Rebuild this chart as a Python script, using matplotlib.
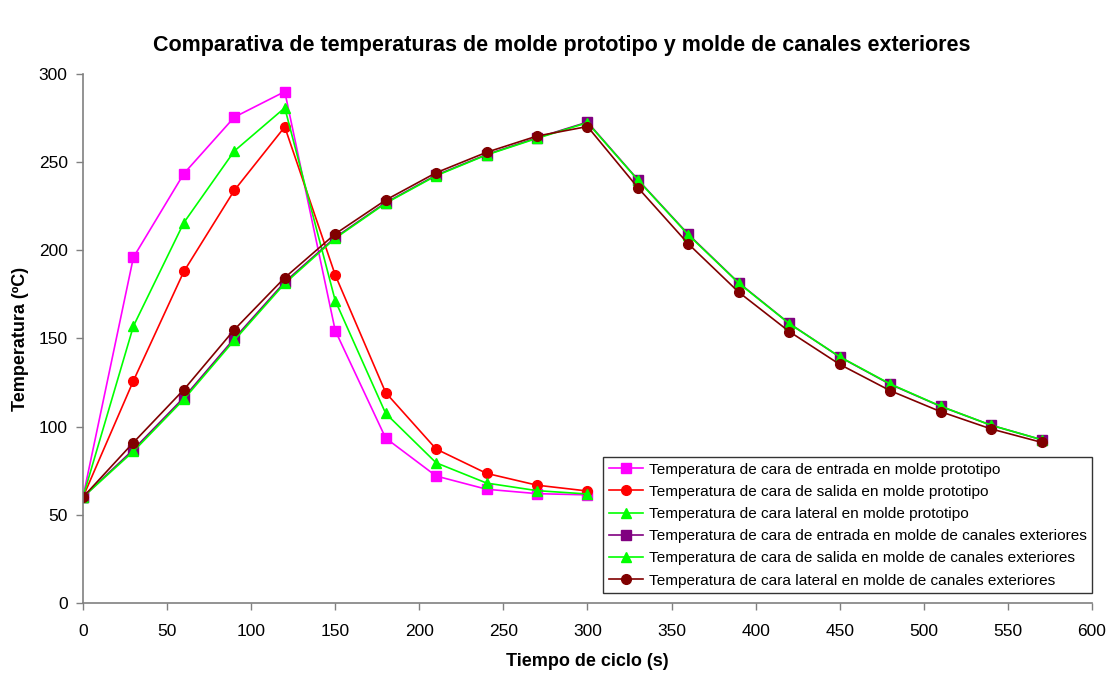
import matplotlib
matplotlib.use("Agg")
import matplotlib.pyplot as plt

plt.rcParams['font.family'] = ['Liberation Sans', 'DejaVu Sans']

t_proto = [0, 30, 60, 90, 120, 150, 180, 210, 240, 270, 300]
entrada_proto = [60, 196, 243.5, 275.5, 290, 154.5, 93.5, 72, 64.5, 62, 61.3]
salida_proto = [60, 126, 188, 234, 270, 186, 119.3, 87.3, 73.5, 66.8, 63.5]
lateral_proto = [60, 157, 215.7, 256.3, 280.8, 171.5, 107.5, 79.5, 68, 63.7, 61.8]

t_can = [0, 30, 60, 90, 120, 150, 180, 210, 240, 270, 300, 330, 360, 390, 420, 450, 480, 510, 540, 570]
entrada_can = [60, 87, 116.5, 150, 182, 207.3, 227, 242.6, 254.3, 263.8, 272.7, 240, 209, 181.5, 158.5, 139.5, 124, 111.5, 100.8, 92.6]
salida_can = [60, 86, 115.5, 149, 181.2, 206.8, 226.7, 242.3, 254.1, 263.5, 272.4, 239.8, 208.7, 181.3, 158.4, 139.6, 124.2, 111.6, 100.8, 92.6]
lateral_can = [60, 91, 121, 155, 184.5, 209.3, 228.5, 244, 255.6, 264.8, 270.2, 235.5, 203.6, 176.2, 153.9, 135.3, 120.4, 108.5, 98.7, 91.1]

labels = [
    "Temperatura de cara de entrada en molde prototipo",
    "Temperatura de cara de salida en molde prototipo",
    "Temperatura de cara lateral en molde prototipo",
    "Temperatura de cara de entrada en molde de canales exteriores",
    "Temperatura de cara de salida en molde de canales exteriores",
    "Temperatura de cara lateral en molde de canales exteriores",
]

fig = plt.figure(figsize=(11.15, 6.75), dpi=100)
ax = fig.add_axes([0.0744, 0.1067, 0.905, 0.7837])

lw = 1.2
ms = 6.5
ax.plot(t_proto, entrada_proto, color='#FF00FF', marker='s', ms=ms, lw=lw, label=labels[0])
ax.plot(t_proto, salida_proto, color='#FF0000', marker='o', ms=ms + 0.5, lw=lw, label=labels[1])
ax.plot(t_proto, lateral_proto, color='#00FF00', marker='^', ms=ms + 0.5, lw=lw, label=labels[2])
ax.plot(t_can, entrada_can, color='#800080', marker='s', ms=ms, lw=lw, label=labels[3])
ax.plot(t_can, salida_can, color='#00FF00', marker='^', ms=ms + 0.5, lw=lw, label=labels[4])
ax.plot(t_can, lateral_can, color='#800000', marker='o', ms=ms + 0.5, lw=lw, label=labels[5])

ax.set_xlim(0, 600)
ax.set_ylim(0, 300)
ax.set_xticks(range(0, 601, 50))
ax.set_yticks(range(0, 301, 50))
for s in ['top', 'right']:
    ax.spines[s].set_visible(False)
for s in ['left', 'bottom']:
    ax.spines[s].set_color('#808080')
    ax.spines[s].set_linewidth(1.2)
ax.tick_params(direction='out', length=5, width=1, color='#808080', labelsize=12.5, pad=6)
ax.tick_params(axis='x', pad=10)

ax.set_xlabel("Tiempo de ciclo (s)", fontsize=13, fontweight='bold', labelpad=10)
ax.set_ylabel("Temperatura (ºC)", fontsize=13, fontweight='bold', labelpad=7)
fig.text(0.504, 0.933, "Comparativa de temperaturas de molde prototipo y molde de canales exteriores",
         fontsize=15.5, fontweight='bold', ha='center', va='center')

leg = ax.legend(loc='lower right', bbox_to_anchor=(1.0, 0.019), borderaxespad=0,
                fontsize=11.1, frameon=True, fancybox=False, edgecolor='black',
                handlelength=2.2, handletextpad=0.4, labelspacing=0.53, borderpad=0.35)
leg.get_frame().set_linewidth(1.0)

fig.savefig("out.png", dpi=100)
